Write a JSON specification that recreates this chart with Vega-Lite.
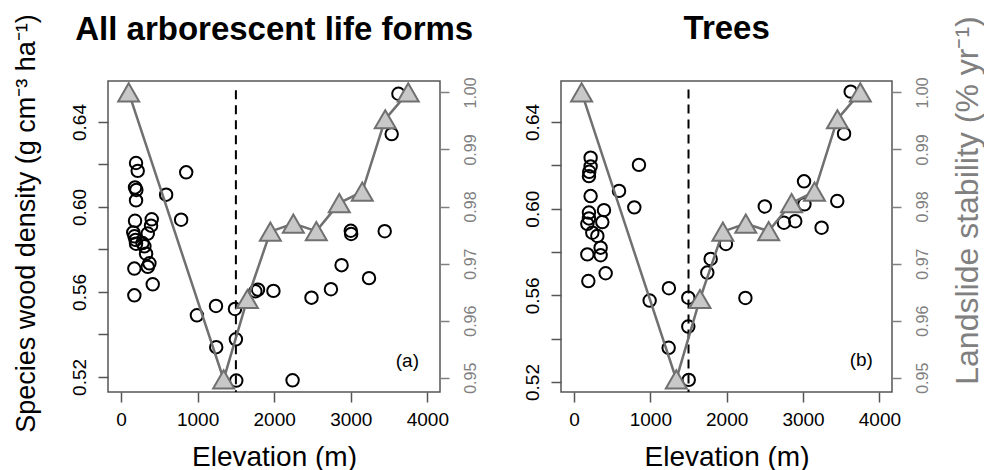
{
  "$schema": "https://vega.github.io/schema/vega-lite/v6.json",
  "padding": {"left": 11, "top": 10, "right": 0, "bottom": 0},
  "config": {
    "font": "Liberation Sans",
    "view": {"stroke": "#555555", "strokeWidth": 1.5},
    "axis": {"grid": false, "domain": false, "tickColor": "#555555", "tickWidth": 1.5, "tickSize": 10, "labelFontSize": 19, "labelColor": "black", "titleFontWeight": "normal", "titleColor": "black"}
  },
  "datasets": {
    "wa": [
      {"elev": 196, "dens": 0.6207}, {"elev": 218, "dens": 0.6170}, {"elev": 183, "dens": 0.6092}, {"elev": 200, "dens": 0.6080},
      {"elev": 196, "dens": 0.6031}, {"elev": 183, "dens": 0.5935}, {"elev": 401, "dens": 0.5942}, {"elev": 392, "dens": 0.5912},
      {"elev": 160, "dens": 0.5880}, {"elev": 176, "dens": 0.5862}, {"elev": 349, "dens": 0.5875}, {"elev": 196, "dens": 0.5827},
      {"elev": 305, "dens": 0.5815}, {"elev": 280, "dens": 0.5830}, {"elev": 327, "dens": 0.5780}, {"elev": 371, "dens": 0.5735},
      {"elev": 174, "dens": 0.5710}, {"elev": 349, "dens": 0.5718}, {"elev": 414, "dens": 0.5636}, {"elev": 174, "dens": 0.5584},
      {"elev": 190, "dens": 0.5845},
      {"elev": 589, "dens": 0.6058}, {"elev": 851, "dens": 0.6163}, {"elev": 785, "dens": 0.5940}, {"elev": 991, "dens": 0.5490},
      {"elev": 1240, "dens": 0.5534}, {"elev": 1243, "dens": 0.5340}, {"elev": 1488, "dens": 0.5520}, {"elev": 1500, "dens": 0.5377},
      {"elev": 1505, "dens": 0.5183}, {"elev": 1754, "dens": 0.5603}, {"elev": 1789, "dens": 0.5611}, {"elev": 1990, "dens": 0.5605},
      {"elev": 2240, "dens": 0.5184}, {"elev": 2487, "dens": 0.5573}, {"elev": 2741, "dens": 0.5613}, {"elev": 2880, "dens": 0.5726},
      {"elev": 3000, "dens": 0.5888}, {"elev": 3005, "dens": 0.5873}, {"elev": 3238, "dens": 0.5665}, {"elev": 3443, "dens": 0.5886},
      {"elev": 3534, "dens": 0.6343}, {"elev": 3622, "dens": 0.6533}
    ],
    "wb": [
      {"elev": 218, "dens": 0.6235}, {"elev": 218, "dens": 0.6195}, {"elev": 196, "dens": 0.6150}, {"elev": 200, "dens": 0.6170},
      {"elev": 218, "dens": 0.6058}, {"elev": 196, "dens": 0.5982}, {"elev": 196, "dens": 0.5955}, {"elev": 175, "dens": 0.5930},
      {"elev": 393, "dens": 0.5993}, {"elev": 371, "dens": 0.5938}, {"elev": 306, "dens": 0.5874}, {"elev": 349, "dens": 0.5820},
      {"elev": 349, "dens": 0.5785}, {"elev": 175, "dens": 0.5789}, {"elev": 415, "dens": 0.5702}, {"elev": 188, "dens": 0.5666},
      {"elev": 240, "dens": 0.5889},
      {"elev": 590, "dens": 0.6082}, {"elev": 851, "dens": 0.6202}, {"elev": 790, "dens": 0.6006}, {"elev": 991, "dens": 0.5576},
      {"elev": 1243, "dens": 0.5633}, {"elev": 1240, "dens": 0.5358}, {"elev": 1497, "dens": 0.5589}, {"elev": 1497, "dens": 0.5456},
      {"elev": 1503, "dens": 0.5210}, {"elev": 1746, "dens": 0.5705}, {"elev": 1790, "dens": 0.5768}, {"elev": 1990, "dens": 0.5837},
      {"elev": 2245, "dens": 0.5588}, {"elev": 2499, "dens": 0.6010}, {"elev": 2750, "dens": 0.5935}, {"elev": 2898, "dens": 0.5942},
      {"elev": 3013, "dens": 0.6126}, {"elev": 3018, "dens": 0.6020}, {"elev": 3243, "dens": 0.5912}, {"elev": 3448, "dens": 0.6035},
      {"elev": 3537, "dens": 0.6346}, {"elev": 3624, "dens": 0.6540}
    ],
    "stab": [
      {"elev": 100, "stab": 1.000}, {"elev": 1340, "stab": 0.9497}, {"elev": 1650, "stab": 0.9638}, {"elev": 1950, "stab": 0.9756},
      {"elev": 2250, "stab": 0.9770}, {"elev": 2550, "stab": 0.9757}, {"elev": 2850, "stab": 0.9806}, {"elev": 3150, "stab": 0.9826},
      {"elev": 3450, "stab": 0.9953}, {"elev": 3750, "stab": 1.000}
    ]
  },
  "spacing": 43,
  "hconcat": [
    {
      "width": 332, "height": 311,
      "resolve": {"scale": {"y": "independent"}},
      "layer": [
        {
          "layer": [
            {
              "data": {"name": "wa"},
              "mark": {"type": "point", "shape": "circle", "filled": false, "stroke": "black", "strokeWidth": 2, "size": 155, "opacity": 1},
              "encoding": {
                "x": {"field": "elev", "type": "quantitative", "scale": {"domain": [-170, 4165], "nice": false, "zero": false},
                      "axis": {"values": [0, 1000, 2000, 3000, 4000], "format": "d", "title": "Elevation (m)", "titleFontSize": 28, "labelPadding": 8, "titlePadding": 14}},
                "y": {"field": "dens", "type": "quantitative", "scale": {"domain": [0.5129, 0.6593], "nice": false, "zero": false},
                      "axis": {"orient": "left", "values": [0.52, 0.54, 0.56, 0.58, 0.6, 0.62, 0.64], "labelExpr": "round(datum.value*100) % 4 == 0 ? format(datum.value, '.2f') : ''",
                               "labelAngle": -90, "labelAlign": "center", "labelBaseline": "bottom", "labelPadding": 9,
                               "title": "Species wood density (g cm⁻³ ha⁻¹)", "titleFontSize": 27, "titlePadding": 30, "titleY": 142}}
              }
            },
            {
              "data": {"values": [{"elev": 1500, "top": 0.655, "bottom": 0.5129}]},
              "mark": {"type": "rule", "color": "black", "strokeWidth": 2, "strokeDash": [9, 6]},
              "encoding": {"x": {"field": "elev", "type": "quantitative"}, "y": {"field": "top", "type": "quantitative"}, "y2": {"field": "bottom"}}
            },
            {
              "data": {"values": [{"elev": 3739, "dens": 0.5275, "lab": "(a)"}]},
              "mark": {"type": "text", "fontSize": 19, "color": "black"},
              "encoding": {"x": {"field": "elev", "type": "quantitative"}, "y": {"field": "dens", "type": "quantitative"}, "text": {"field": "lab"}}
            },
            {
              "data": {"values": [{"elev": 2000, "dens": 0.6786, "lab": "All arborescent life forms"}]},
              "mark": {"type": "text", "fontSize": 33, "fontWeight": "bold", "color": "black", "baseline": "alphabetic", "align": "center"},
              "encoding": {"x": {"field": "elev", "type": "quantitative"}, "y": {"field": "dens", "type": "quantitative"}, "text": {"field": "lab"}}
            }
          ]
        },
        {
          "data": {"name": "stab"},
          "encoding": {
            "x": {"field": "elev", "type": "quantitative"},
            "y": {"field": "stab", "type": "quantitative", "scale": {"domain": [0.9475, 1.002], "nice": false, "zero": false},
                  "axis": {"orient": "right", "values": [0.95, 0.96, 0.97, 0.98, 0.99, 1.0], "format": ".2f", "labelAngle": -90, "labelAlign": "center", "labelBaseline": "top",
                           "labelFontSize": 16, "labelColor": "#808080", "tickColor": "#808080", "tickSize": 9, "labelPadding": 13, "title": null}}
          },
          "layer": [
            {"mark": {"type": "line", "color": "#707070", "strokeWidth": 2.5}},
            {"mark": {"type": "point", "shape": "triangle-up", "filled": true, "fill": "#c8c8c8", "stroke": "#707070", "strokeWidth": 2, "size": 440, "opacity": 1}}
          ]
        }
      ]
    },
    {
      "width": 331, "height": 311,
      "resolve": {"scale": {"y": "independent"}},
      "layer": [
        {
          "layer": [
            {
              "data": {"name": "wb"},
              "mark": {"type": "point", "shape": "circle", "filled": false, "stroke": "black", "strokeWidth": 2, "size": 155, "opacity": 1},
              "encoding": {
                "x": {"field": "elev", "type": "quantitative", "scale": {"domain": [-170, 4165], "nice": false, "zero": false},
                      "axis": {"values": [0, 1000, 2000, 3000, 4000], "format": "d", "title": "Elevation (m)", "titleFontSize": 28, "labelPadding": 8, "titlePadding": 14}},
                "y": {"field": "dens", "type": "quantitative", "scale": {"domain": [0.5154, 0.6589], "nice": false, "zero": false},
                      "axis": {"orient": "left", "values": [0.52, 0.54, 0.56, 0.58, 0.6, 0.62, 0.64], "labelExpr": "round(datum.value*100) % 4 == 0 ? format(datum.value, '.2f') : ''",
                               "labelAngle": -90, "labelAlign": "center", "labelBaseline": "bottom", "labelPadding": 9, "title": null}}
              }
            },
            {
              "data": {"values": [{"elev": 1500, "top": 0.655, "bottom": 0.5154}]},
              "mark": {"type": "rule", "color": "black", "strokeWidth": 2, "strokeDash": [9, 6]},
              "encoding": {"x": {"field": "elev", "type": "quantitative"}, "y": {"field": "top", "type": "quantitative"}, "y2": {"field": "bottom"}}
            },
            {
              "data": {"values": [{"elev": 3763, "dens": 0.5302, "lab": "(b)"}]},
              "mark": {"type": "text", "fontSize": 19, "color": "black"},
              "encoding": {"x": {"field": "elev", "type": "quantitative"}, "y": {"field": "dens", "type": "quantitative"}, "text": {"field": "lab"}}
            },
            {
              "data": {"values": [{"elev": 2000, "dens": 0.6783, "lab": "Trees"}]},
              "mark": {"type": "text", "fontSize": 33, "fontWeight": "bold", "color": "black", "baseline": "alphabetic", "align": "center"},
              "encoding": {"x": {"field": "elev", "type": "quantitative"}, "y": {"field": "dens", "type": "quantitative"}, "text": {"field": "lab"}}
            }
          ]
        },
        {
          "data": {"name": "stab"},
          "encoding": {
            "x": {"field": "elev", "type": "quantitative"},
            "y": {"field": "stab", "type": "quantitative", "scale": {"domain": [0.9475, 1.002], "nice": false, "zero": false},
                  "axis": {"orient": "right", "values": [0.95, 0.96, 0.97, 0.98, 0.99, 1.0], "format": ".2f", "labelAngle": -90, "labelAlign": "center", "labelBaseline": "top",
                           "labelFontSize": 16, "labelColor": "#808080", "tickColor": "#808080", "tickSize": 9, "labelPadding": 13,
                           "title": "Landslide stability  (% yr⁻¹)", "titleFontSize": 32, "titleColor": "#808080", "titleAngle": -90, "titleBaseline": "top", "titlePadding": 22, "titleY": 119}}
          },
          "layer": [
            {"mark": {"type": "line", "color": "#707070", "strokeWidth": 2.5}},
            {"mark": {"type": "point", "shape": "triangle-up", "filled": true, "fill": "#c8c8c8", "stroke": "#707070", "strokeWidth": 2, "size": 440, "opacity": 1}}
          ]
        }
      ]
    }
  ]
}
